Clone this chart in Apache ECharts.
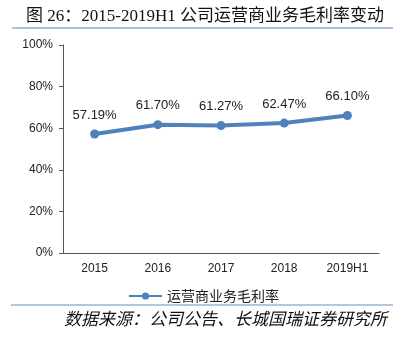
<!DOCTYPE html>
<html>
<head>
<meta charset="utf-8">
<script src="https://cdn.jsdelivr.net/npm/echarts@6/dist/echarts.min.js"></script>
<style>
  html, body { margin: 0; padding: 0; background: #fff; }
  #chart { width: 412px; height: 341px; }
</style>
</head>
<body>
<div id="chart"></div>
<script>
// Operator business gross margin, 2015 to 2019H1 (percent)
const years = ['2015', '2016', '2017', '2018', '2019H1'];
const grossMargin = [57.19, 61.70, 61.27, 62.47, 66.10];
const seriesName = '运营商业务毛利率';
const titleText = '图 26：2015-2019H1 公司运营商业务毛利率变动';
const sourceText = '数据来源：公司公告、长城国瑞证券研究所';

const chart = echarts.init(document.getElementById('chart'));
const cjk = '"Noto Sans CJK SC", "Noto Sans", sans-serif';
const latin = '"Liberation Sans", Arial, sans-serif';

chart.setOption({
  animation: false,
  backgroundColor: '#fff',
  title: {
    text: titleText,
    left: 21,
    top: 3,
    textStyle: {
      fontFamily: '"Liberation Serif", "Noto Sans CJK SC", serif',
      fontSize: 17,
      fontWeight: 'normal',
      color: '#111'
    }
  },
  graphic: [
    { type: 'line', shape: { x1: 12, y1: 28, x2: 393, y2: 28 },
      style: { stroke: '#a8c2e0', lineWidth: 2 } },
    { type: 'line', shape: { x1: 11, y1: 305, x2: 393, y2: 305 },
      style: { stroke: '#6a8fc0', lineWidth: 1 } },
    { type: 'text', left: 64, top: 310,
      style: { text: sourceText, fontFamily: cjk, fontSize: 17, fontStyle: 'italic',
               fontWeight: 'normal', fill: '#111' } }
  ],
  legend: {
    data: [seriesName],
    left: 123,
    top: 284,
    itemWidth: 33,
    itemHeight: 9,
    itemGap: 5,
    textStyle: { fontFamily: cjk, fontSize: 14, color: '#222' }
  },
  grid: { left: 63, right: 33, top: 45, bottom: 88 },
  xAxis: {
    type: 'category',
    data: years,
    axisLine: { lineStyle: { color: '#555', width: 1 } },
    axisTick: { inside: true, length: 3, lineStyle: { color: '#555' } },
    axisLabel: { margin: 10, fontFamily: latin, fontSize: 12, color: '#222' }
  },
  yAxis: {
    type: 'value',
    min: 0,
    max: 100,
    interval: 20,
    axisLine: { show: true, lineStyle: { color: '#555', width: 1 } },
    axisTick: { show: true, length: 4, lineStyle: { color: '#555' } },
    splitLine: { show: false },
    axisLabel: { margin: 10, fontFamily: latin, fontSize: 12, color: '#222',
                 formatter: v => v + '%' }
  },
  series: [{
    name: seriesName,
    type: 'line',
    data: grossMargin,
    symbol: 'circle',
    symbolSize: 9,
    lineStyle: { color: '#4f81bd', width: 4 },
    itemStyle: { color: '#4f81bd' },
    label: {
      show: true,
      position: 'top',
      distance: 8,
      fontFamily: latin,
      fontSize: 13,
      color: '#222',
      formatter: p => p.value.toFixed(2) + '%'
    }
  }]
});
</script>
</body>
</html>
